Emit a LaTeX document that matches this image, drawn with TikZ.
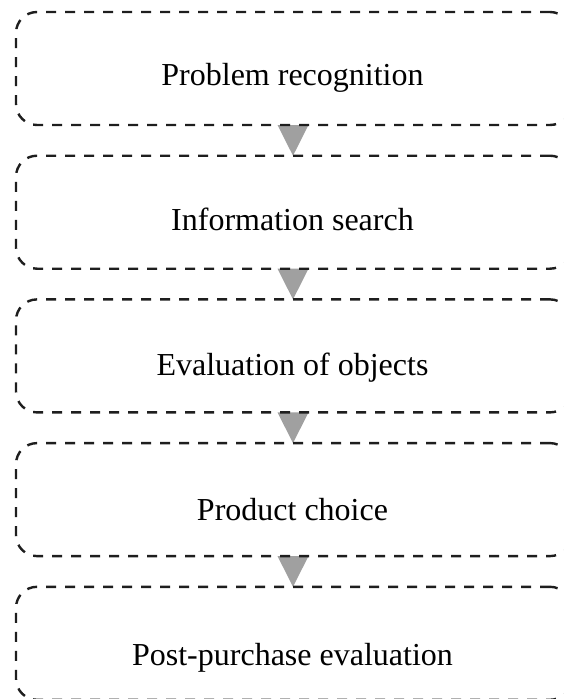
\documentclass[tikz,border=0pt]{standalone}
\usepackage{fontspec}
\setmainfont{Liberation Serif}
\pgfdeclarelayer{background}
\pgfsetlayers{background,main}
\definecolor{dashink}{RGB}{30,30,30}
\definecolor{arrowgray}{RGB}{160,160,160}
\tikzset{
  stage/.style={draw=dashink, line width=2.4pt, dash pattern=on 10pt off 9pt,
    rounded corners=21pt, minimum width=555pt, minimum height=113pt,
    inner sep=0pt, outer sep=0pt},
  lbl/.style={anchor=base, inner sep=0pt, font=\fontsize{32}{38}\selectfont},
  flow/.style={fill=arrowgray, draw=none}
}
\begin{document}
\begin{tikzpicture}[x=1pt, y=-1pt]
  \useasboundingbox (0,0) rectangle (563,699);
  \clip (0,0) rectangle (563,699);

  % stage boxes
  \node[stage] (b1) at (293.5, 68.5) {};
  \node[stage] (b2) at (293.5, 212.2) {};
  \node[stage] (b3) at (293.5, 355.9) {};
  \node[stage] (b4) at (293.5, 499.6) {};
  \node[stage] (b5) at (293.5, 643.3) {};

  % stage labels
  \node[lbl] (t1) at (292.5, 85) {Problem recognition};
  \node[lbl] (t2) at (292.5, 230) {Information search};
  \node[lbl] (t3) at (292.5, 375) {Evaluation of objects};
  \node[lbl] (t4) at (292.5, 520) {Product choice};
  \node[lbl] (t5) at (292.5, 665) {Post-purchase evaluation};

  % downward arrows between consecutive stages
  \begin{pgfonlayer}{background}
    \foreach \a/\b in {b1/b2, b2/b3, b3/b4, b4/b5} {
      \fill[flow] ([xshift=-16pt]\a.south) -- ([xshift=15pt]\a.south) -- ([xshift=-0.5pt]\b.north) -- cycle;
    }
  \end{pgfonlayer}
\end{tikzpicture}
\end{document}
